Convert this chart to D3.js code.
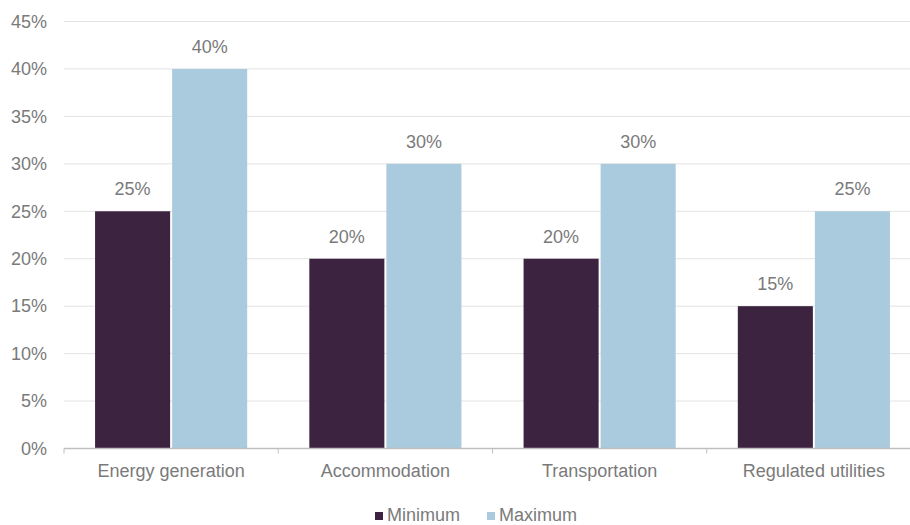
<!DOCTYPE html>
<html>
<head>
<meta charset="utf-8">
<script src="https://cdn.jsdelivr.net/npm/d3@7"></script>
<style>
  html, body { margin: 0; padding: 0; background: #ffffff; }
  svg { display: block; font-family: "Liberation Sans", Arial, sans-serif; }
</style>
</head>
<body>
<script>
// Sector categories and the two series shown per category
const categories = ["Energy generation", "Accommodation", "Transportation", "Regulated utilities"];
const seriesNames = ["Minimum", "Maximum"];
const minimumValues = [0.25, 0.20, 0.20, 0.15];
const maximumValues = [0.40, 0.30, 0.30, 0.25];
const yTickValues = [0, 0.05, 0.10, 0.15, 0.20, 0.25, 0.30, 0.35, 0.40, 0.45];

const seriesColors = { Minimum: "#3c2340", Maximum: "#aacadd" };
const textColor = "#7a7a7a";

const width = 910, height = 525;
const plot = { left: 64, right: 921, top: 21.5, bottom: 448.5 };

const rows = categories.map((c, i) => ({
  category: c,
  values: [
    { series: "Minimum", value: minimumValues[i] },
    { series: "Maximum", value: maximumValues[i] }
  ]
}));

const svg = d3.select("body").append("svg")
  .attr("width", width).attr("height", height);

const x0 = d3.scaleBand().domain(categories).range([plot.left, plot.right]).padding(0);
const bw = x0.bandwidth();
const x1 = d3.scaleBand().domain(seriesNames)
  .range([bw * 0.145, bw * 0.855]).paddingInner(0.026);
const y = d3.scaleLinear().domain([0, 0.45]).range([plot.bottom, plot.top]);

const fmt = d3.format(".0%");

// Horizontal gridlines
svg.append("g").selectAll("line")
  .data(yTickValues.filter(v => v > 0))
  .join("line")
  .attr("x1", plot.left).attr("x2", width)
  .attr("y1", d => y(d)).attr("y2", d => y(d))
  .attr("stroke", "#e3e3e3").attr("stroke-width", 1);

// Y axis labels
const yAxis = d3.axisLeft(y).tickValues(yTickValues).tickFormat(fmt).tickSize(0).tickPadding(17);
const gy = svg.append("g").attr("transform", `translate(${plot.left},0)`).call(yAxis);
gy.select(".domain").remove();
gy.selectAll("text")
  .attr("fill", textColor)
  .style("font-size", "18px")
  .style("font-family", "'Liberation Sans', Arial, sans-serif");

// Bars
const groups = svg.append("g").selectAll("g")
  .data(rows).join("g")
  .attr("transform", d => `translate(${x0(d.category)},0)`);

groups.selectAll("rect")
  .data(d => d.values).join("rect")
  .attr("x", d => x1(d.series))
  .attr("y", d => y(d.value))
  .attr("width", x1.bandwidth())
  .attr("height", d => y(0) - y(d.value))
  .attr("fill", d => seriesColors[d.series]);

// Value labels above bars
groups.selectAll("text")
  .data(d => d.values).join("text")
  .attr("x", d => x1(d.series) + x1.bandwidth() / 2)
  .attr("y", d => y(d.value) - 16)
  .attr("text-anchor", "middle")
  .attr("fill", textColor)
  .style("font-size", "18px")
  .text(d => fmt(d.value));

// X axis with category boundary ticks
const xAxisG = svg.append("g").attr("transform", `translate(0,${plot.bottom})`);
xAxisG.append("line")
  .attr("x1", plot.left).attr("x2", width)
  .attr("y1", 0).attr("y2", 0)
  .attr("stroke", "#bfbfbf").attr("stroke-width", 1.3);
const boundaries = categories.map(c => x0(c)).concat([x0(categories[categories.length - 1]) + bw]);
xAxisG.selectAll("line.tick")
  .data(boundaries).join("line")
  .attr("class", "tick")
  .attr("x1", d => d).attr("x2", d => d)
  .attr("y1", 0).attr("y2", 5)
  .attr("stroke", "#bfbfbf").attr("stroke-width", 1);
xAxisG.selectAll("text")
  .data(categories).join("text")
  .attr("x", d => x0(d) + bw / 2)
  .attr("y", 28)
  .attr("text-anchor", "middle")
  .attr("fill", textColor)
  .style("font-size", "18px")
  .text(d => d);

// Legend
const legend = svg.append("g").attr("transform", "translate(375,521)");
const legendItems = legend.selectAll("g")
  .data(seriesNames).join("g")
  .attr("transform", (d, i) => `translate(${i * 112},0)`);
legendItems.append("rect")
  .attr("x", 0).attr("y", -9).attr("width", 8).attr("height", 8)
  .attr("fill", d => seriesColors[d]);
legendItems.append("text")
  .attr("x", 12).attr("y", 0)
  .attr("fill", textColor)
  .style("font-size", "18px")
  .text(d => d);
</script>
</body>
</html>
